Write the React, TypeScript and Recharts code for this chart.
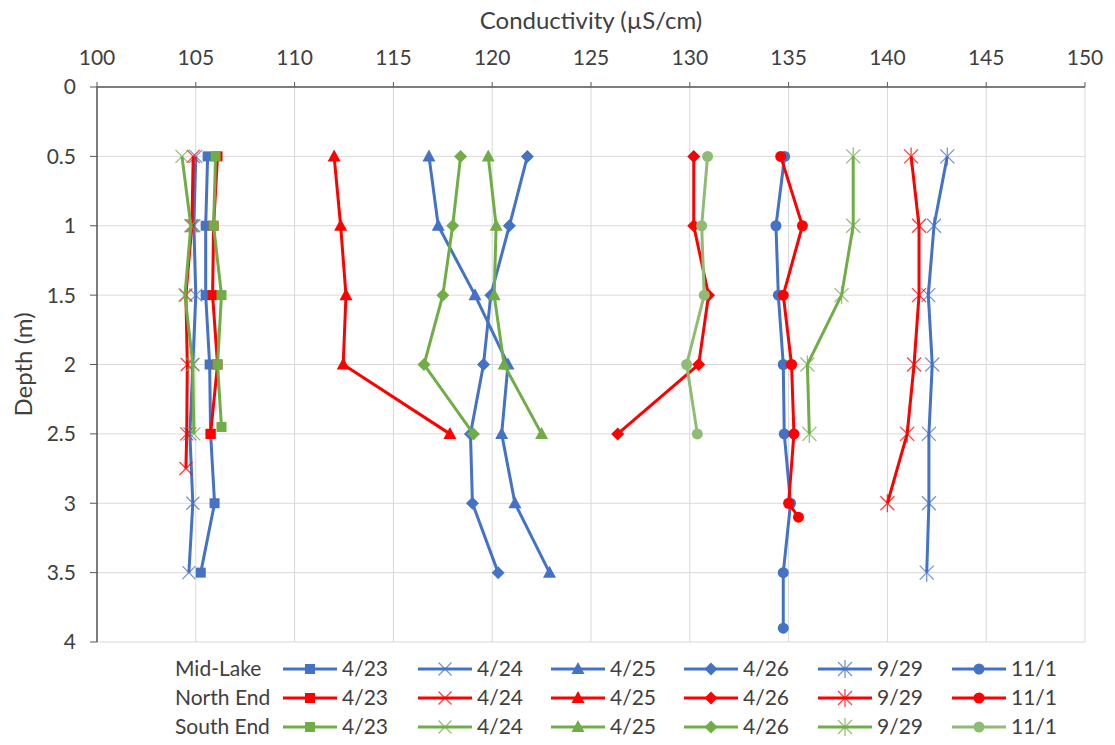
import React from 'react';
import { ScatterChart, Scatter, XAxis, YAxis, CartesianGrid, Label } from 'recharts';

// ---- Data ----
const xTicks = [100, 105, 110, 115, 120, 125, 130, 135, 140, 145, 150];
const yTicks = [0, 0.5, 1, 1.5, 2, 2.5, 3, 3.5, 4];
const sites = ['Mid-Lake', 'North End', 'South End'];
const dates = ['4/23', '4/24', '4/25', '4/26', '9/29', '11/1'];

const depth5 = [0.5, 1, 1.5, 2, 2.5];
const depth6 = [0.5, 1, 1.5, 2, 2.5, 3];
const depth7 = [0.5, 1, 1.5, 2, 2.5, 3, 3.5];

// Mid-Lake
const midDepth1101 = [0.5, 1, 1.5, 2, 2.5, 3, 3.5, 3.9];
const mid0423 = [105.6, 105.5, 105.5, 105.7, 105.75, 105.95, 105.25];
const mid0424 = [105.0, 104.9, 105.0, 104.85, 104.7, 104.85, 104.65];
const mid0425 = [116.8, 117.27, 119.13, 120.8, 120.48, 121.15, 122.9];
const mid0426 = [121.78, 120.87, 119.93, 119.56, 118.9, 119.0, 120.3];
const mid0929 = [143.03, 142.36, 142.07, 142.27, 142.1, 142.1, 141.99];
const mid1101 = [134.8, 134.36, 134.48, 134.73, 134.78, 135.1, 134.73, 134.73];

// North End
const northDepth0424 = [0.5, 1, 1.5, 2, 2.5, 2.75];
const northDepth1101 = [0.5, 1, 1.5, 2, 2.5, 3, 3.1];
const north0423 = [106.1, 105.9, 105.85, 106.1, 105.75];
const north0424 = [104.87, 104.8, 104.5, 104.57, 104.54, 104.5];
const north0425 = [112.0, 112.33, 112.6, 112.46, 117.86];
const north0426 = [130.2, 130.2, 130.95, 130.45, 126.35];
const north0929 = [141.2, 141.6, 141.6, 141.35, 141.0, 140.0];
const north1101 = [134.6, 135.7, 134.73, 135.15, 135.27, 135.0, 135.5];

// South End
const southDepth0423 = [0.5, 1, 1.5, 2, 2.45];
const south0423 = [106.0, 105.9, 106.3, 106.1, 106.3];
const south0424 = [104.3, 104.75, 104.45, 104.85, 104.9];
const south0425 = [119.8, 120.2, 120.1, 120.6, 122.5];
const south0426 = [118.4, 118.0, 117.5, 116.55, 119.05];
const south0929 = [138.27, 138.27, 137.68, 135.95, 136.05];
const south1101 = [130.9, 130.6, 130.73, 129.84, 130.38];

// ---- Styles ----
const siteColors = ['#4472C4', '#FF0000', '#70AD47'];
const south1101Color = '#8FBC74';
const markerKinds = ['square', 'x', 'triangle', 'diamond', 'star', 'circle'];
const textColor = '#404040';
const fontFamily = 'Lato, "Open Sans", sans-serif';

const zip = (depths: number[], vals: number[]) => vals.map((v, i) => ({ x: v, y: depths[i] }));

type Series = { site: number; date: number; color: string; data: { x: number; y: number }[] };

const seriesList: Series[] = [
  { site: 0, date: 0, color: siteColors[0], data: zip(depth7, mid0423) },
  { site: 0, date: 1, color: siteColors[0], data: zip(depth7, mid0424) },
  { site: 0, date: 2, color: siteColors[0], data: zip(depth7, mid0425) },
  { site: 0, date: 3, color: siteColors[0], data: zip(depth7, mid0426) },
  { site: 0, date: 4, color: siteColors[0], data: zip(depth7, mid0929) },
  { site: 0, date: 5, color: siteColors[0], data: zip(midDepth1101, mid1101) },
  { site: 1, date: 0, color: siteColors[1], data: zip(depth5, north0423) },
  { site: 1, date: 1, color: siteColors[1], data: zip(northDepth0424, north0424) },
  { site: 1, date: 2, color: siteColors[1], data: zip(depth5, north0425) },
  { site: 1, date: 3, color: siteColors[1], data: zip(depth5, north0426) },
  { site: 1, date: 4, color: siteColors[1], data: zip(depth6, north0929) },
  { site: 1, date: 5, color: siteColors[1], data: zip(northDepth1101, north1101) },
  { site: 2, date: 0, color: siteColors[2], data: zip(southDepth0423, south0423) },
  { site: 2, date: 1, color: siteColors[2], data: zip(depth5, south0424) },
  { site: 2, date: 2, color: siteColors[2], data: zip(depth5, south0425) },
  { site: 2, date: 3, color: siteColors[2], data: zip(depth5, south0426) },
  { site: 2, date: 4, color: siteColors[2], data: zip(depth5, south0929) },
  { site: 2, date: 5, color: south1101Color, data: zip(depth5, south1101) },
];

function Marker({ kind, cx, cy, color }: { kind: string; cx: number; cy: number; color: string }) {
  if (cx == null || cy == null) return null;
  switch (kind) {
    case 'square':
      return <rect x={cx - 5} y={cy - 5} width={10} height={10} fill={color} />;
    case 'triangle':
      return <path d={`M${cx},${cy - 7} L${cx + 6.5},${cy + 5} L${cx - 6.5},${cy + 5} Z`} fill={color} />;
    case 'diamond':
      return <path d={`M${cx},${cy - 6.5} L${cx + 6.5},${cy} L${cx},${cy + 6.5} L${cx - 6.5},${cy} Z`} fill={color} />;
    case 'circle':
      return <circle cx={cx} cy={cy} r={5.5} fill={color} />;
    case 'x':
      return (
        <g stroke={color} strokeWidth={1.3} opacity={0.75}>
          <line x1={cx - 6.5} y1={cy - 6.5} x2={cx + 6.5} y2={cy + 6.5} />
          <line x1={cx - 6.5} y1={cy + 6.5} x2={cx + 6.5} y2={cy - 6.5} />
        </g>
      );
    case 'star':
      return (
        <g stroke={color} strokeWidth={1.3} opacity={0.75}>
          <line x1={cx - 7} y1={cy - 7} x2={cx + 7} y2={cy + 7} />
          <line x1={cx - 7} y1={cy + 7} x2={cx + 7} y2={cy - 7} />
          <line x1={cx} y1={cy - 9} x2={cx} y2={cy + 9} />
        </g>
      );
    default:
      return null;
  }
}

const legendEntryX = [283, 418, 551, 684, 818, 952];
const legendRowY = [669, 698, 727];

function LegendBlock() {
  return (
    <svg width={1115} height={745} style={{ position: 'absolute', left: 0, top: 0, pointerEvents: 'none' }}>
      {sites.map((site, si) =>
        <g key={site}>
          <text x={175} y={legendRowY[si]} dy="0.35em" fontSize={21} fill={textColor} fontFamily={fontFamily}>{site}</text>
          {dates.map((d, di) => {
            const s = seriesList.find((q) => q.site === si && q.date === di)!;
            const x0 = legendEntryX[di];
            const y = legendRowY[si];
            return (
              <g key={d}>
                <line x1={x0} y1={y} x2={x0 + 54} y2={y} stroke={s.color} strokeWidth={3} />
                <Marker kind={markerKinds[di]} cx={x0 + 27} cy={y} color={s.color} />
                <text x={x0 + 59} y={y} dy="0.35em" fontSize={21} fill={textColor} fontFamily={fontFamily}>{d}</text>
              </g>
            );
          })}
        </g>
      )}
    </svg>
  );
}

export default function App() {
  return (
    <div style={{ position: 'absolute', left: 0, top: 0, width: 1115, height: 745, background: '#fff' }}>
      <ScatterChart width={1115} height={745} margin={{ top: 47, right: 30, bottom: 103, left: 37 }}>
        <CartesianGrid stroke="#D9D9D9" strokeWidth={1} />
        <XAxis
          type="number"
          dataKey="x"
          orientation="top"
          domain={[100, 150]}
          ticks={xTicks}
          interval={0}
          height={40}
          allowDataOverflow
          axisLine={{ stroke: '#595959', strokeWidth: 1.5 }}
          tickLine={{ stroke: '#595959' }}
          tickSize={5}
          tickMargin={17}
          tick={{ fill: textColor, fontSize: 21, fontFamily }}
        >
          <Label value="Conductivity (µS/cm)" position="top" offset={18} fill={textColor} fontSize={24} fontFamily={fontFamily} />
        </XAxis>
        <YAxis
          type="number"
          dataKey="y"
          reversed
          domain={[0, 4]}
          ticks={yTicks}
          interval={0}
          width={60}
          allowDataOverflow
          axisLine={{ stroke: '#595959', strokeWidth: 1.5 }}
          tickLine={{ stroke: '#595959' }}
          tickSize={7}
          tickMargin={14}
          tick={{ fill: textColor, fontSize: 21, fontFamily }}
        >
          <Label value="Depth (m)" angle={-90} position="insideLeft" offset={-14} fill={textColor} fontSize={24} fontFamily={fontFamily} style={{ textAnchor: 'middle' }} />
        </YAxis>
        {seriesList.map((s, i) => (
          <Scatter
            key={i}
            name={`${sites[s.site]} ${dates[s.date]}`}
            data={s.data}
            line={{ stroke: s.color, strokeWidth: 3 }}
            lineType="joint"
            isAnimationActive={false}
            shape={(p: any) => <Marker kind={markerKinds[s.date]} cx={p.cx} cy={p.cy} color={s.color} />}
          />
        ))}
      </ScatterChart>
      <LegendBlock />
    </div>
  );
}
